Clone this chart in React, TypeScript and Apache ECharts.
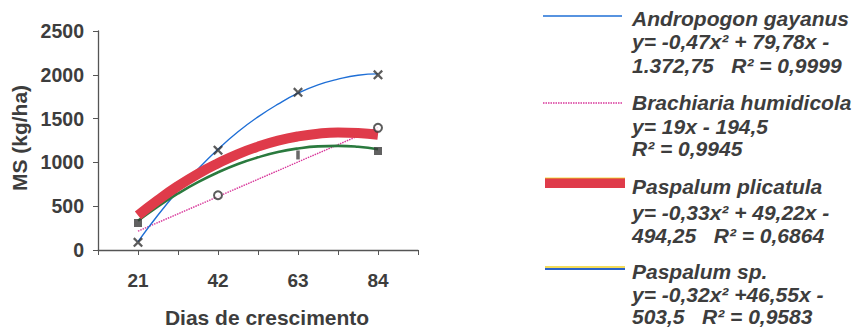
import React, { useEffect, useRef } from "react";
import * as echarts from "echarts";

// x positions (days) labelled on the axis
const xTicks = [21, 42, 63, 84];

// Trend curves (value at given day)
const andropogonCurve: [number, number][] = [
  [21, 95], [26.25, 400], [31.5, 675], [36.75, 925], [42, 1150], [47.25, 1350], [52.5, 1520],
  [57.75, 1665], [63, 1790], [68.25, 1885], [73.5, 1950], [78.75, 1995], [84, 2010],
];
const brachiariaLine: [number, number][] = [
  [21, 215], [84, 1400],
];
const plicatulaCurve: [number, number][] = [
  [21, 395], [26.25, 570], [31.5, 730], [36.75, 870], [42, 990], [47.25, 1095], [52.5, 1180],
  [57.75, 1248], [63, 1297], [68.25, 1328], [73.5, 1341], [78.75, 1335], [84, 1315],
];
const paspalumSpCurve: [number, number][] = [
  [21, 333], [26.25, 498], [31.5, 645], [36.75, 775], [42, 887], [47.25, 982], [52.5, 1058],
  [57.75, 1118], [63, 1159], [68.25, 1183], [73.5, 1189], [78.75, 1178], [84, 1150],
];

// Observed points
const andropogonPoints: [number, number][] = [
  [21, 88], [42, 1140], [63, 1800], [84, 2000],
];
const brachiariaPoints: [number, number][] = [
  [42, 625], [84, 1395],
];
const paspalumSpPoints: [number, number][] = [
  [21, 308], [84, 1130],
];
const oddPoint: [number, number][] = [[63, 1085]];

const yTicks = { min: 0, max: 2500, step: 500 };

const legendRows = [
  { y: [18.5, 41, 65], lines: ["Andropogon gayanus", "y= -0,47x² + 79,78x -", "1.372,75   R² = 0,9999"] },
  { y: [102.5, 126, 148], lines: ["Brachiaria humidicola", "y= 19x - 194,5", "R² = 0,9945"] },
  { y: [186.5, 212, 235], lines: ["Paspalum plicatula", "y= -0,33x² + 49,22x -", "494,25   R² = 0,6864"] },
  { y: [271, 294, 316.5], lines: ["Paspalum sp.", "y= -0,32x² +46,55x -", "503,5   R² = 0,9583"] },
];

const FONT = "'Liberation Sans', Arial, sans-serif";
const TXT = "#3d3d3d";
const BLUE = "#1f6fd6";
const PINK = "#d8369a";
const RED = "#df3b4a";
const GREEN = "#2a7a3e";

const X_PATH =
  "path://M0,1.6L1.6,0L5,3.4L8.4,0L10,1.6L6.6,5L10,8.4L8.4,10L5,6.6L1.6,10L0,8.4L3.4,5Z";

export default function App() {
  const ref = useRef<HTMLDivElement>(null);
  useEffect(() => {
    document.body.style.margin = "0";
    const chart = echarts.init(ref.current!, null, { renderer: "svg" });
    const graphics: any[] = [];
    legendRows.forEach((row) => {
      row.lines.forEach((t, i) => {
        graphics.push({
          type: "text",
          x: 632,
          y: row.y[i],
          style: {
            text: t,
            font: `italic bold 21px ${FONT}`,
            fill: TXT,
            verticalAlign: "middle",
            align: "left",
          },
        });
      });
    });
    // legend samples
    graphics.push(
      { type: "line", shape: { x1: 543, y1: 16, x2: 622, y2: 16 }, style: { stroke: BLUE, lineWidth: 1.3 } },
      { type: "line", shape: { x1: 543, y1: 103, x2: 622, y2: 103 }, style: { stroke: PINK, lineWidth: 1.5, lineDash: [1.5, 1] } },
      { type: "rect", shape: { x: 545, y: 178, width: 80, height: 10 }, style: { fill: RED } },
      { type: "line", shape: { x1: 545, y1: 178, x2: 625, y2: 178 }, style: { stroke: "#f2d21a", lineWidth: 0.8 } },
      { type: "line", shape: { x1: 545, y1: 267, x2: 625, y2: 267 }, style: { stroke: "#f0d020", lineWidth: 1.6 } },
      { type: "line", shape: { x1: 545, y1: 269, x2: 625, y2: 269 }, style: { stroke: "#2a62c8", lineWidth: 1.8 } },
      {
        type: "text",
        x: 267,
        y: 317,
        style: { text: "Dias de crescimento", font: `bold 21px ${FONT}`, fill: TXT, align: "center", verticalAlign: "middle" },
      },
      {
        type: "text",
        x: 19,
        y: 138,
        rotation: Math.PI / 2,
        style: { text: "MS (kg/ha)", font: `bold 21px ${FONT}`, fill: TXT, align: "center", verticalAlign: "middle" },
      }
    );

    chart.setOption({
      animation: false,
      backgroundColor: "#ffffff",
      grid: { left: 98, top: 31, width: 320, height: 219, containLabel: false },
      xAxis: {
        type: "value",
        min: 10.5,
        max: 94.5,
        interval: 10.5,
        axisLine: { lineStyle: { color: "#555", width: 1.3 } },
        axisTick: { show: true, length: 5, lineStyle: { color: "#555" } },
        splitLine: { show: false },
        axisLabel: {
          margin: 21,
          color: TXT,
          fontFamily: FONT,
          fontWeight: "bold",
          fontSize: 19,
          showMinLabel: true,
          showMaxLabel: true,
          formatter: (v: number) => (xTicks.includes(v) ? String(v) : ""),
        },
      },
      yAxis: {
        type: "value",
        min: yTicks.min,
        max: yTicks.max,
        interval: yTicks.step,
        axisLine: { show: true, lineStyle: { color: "#555", width: 1.3 } },
        axisTick: { show: true, length: 5, lineStyle: { color: "#555" } },
        splitLine: { show: false },
        axisLabel: {
          margin: 14,
          color: TXT,
          fontFamily: FONT,
          fontWeight: "bold",
          fontSize: 19.5,
          formatter: (v: number) => String(v),
        },
      },
      graphic: graphics,
      series: [
        {
          type: "line",
          data: brachiariaLine,
          showSymbol: false,
          lineStyle: { color: PINK, width: 1.4, type: [1.5, 1] },
          z: 2,
        },
        {
          type: "line",
          data: andropogonCurve,
          smooth: true,
          showSymbol: false,
          lineStyle: { color: BLUE, width: 1.4 },
          z: 2,
        },
        {
          type: "line",
          data: paspalumSpCurve,
          smooth: true,
          showSymbol: false,
          lineStyle: { color: GREEN, width: 2.6 },
          z: 3,
        },
        {
          type: "line",
          data: plicatulaCurve,
          smooth: true,
          showSymbol: false,
          lineStyle: { color: RED, width: 10 },
          z: 4,
        },
        {
          type: "scatter",
          data: andropogonPoints,
          symbol: X_PATH,
          symbolSize: 10,
          itemStyle: { color: "#333" },
          z: 6,
        },
        {
          type: "scatter",
          data: brachiariaPoints,
          symbol: "circle",
          symbolSize: 8,
          itemStyle: { color: "#fff", borderColor: "#333", borderWidth: 2 },
          z: 6,
        },
        {
          type: "scatter",
          data: paspalumSpPoints,
          symbol: "rect",
          symbolSize: 8,
          itemStyle: { color: "#3a3a3a" },
          z: 6,
        },
        {
          type: "scatter",
          data: oddPoint,
          symbol: "rect",
          symbolSize: [3.5, 9],
          itemStyle: { color: "#444" },
          z: 6,
        },
      ],
    });
    return () => chart.dispose();
  }, []);
  return <div ref={ref} style={{ width: 858, height: 327 }} />;
}
